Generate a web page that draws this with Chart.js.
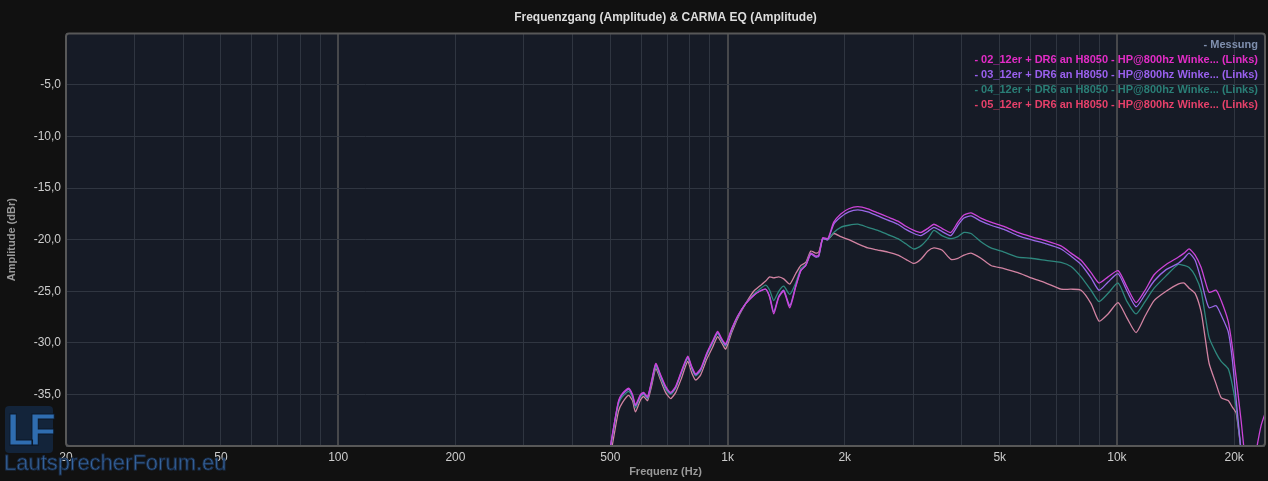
<!DOCTYPE html>
<html>
<head>
<meta charset="utf-8">
<title>Frequenzgang</title>
<script src="https://cdn.jsdelivr.net/npm/chart.js@4.4.1/dist/chart.umd.min.js"></script>
<style>
  html, body { margin: 0; padding: 0; background: #111111; }
  #wrap { position: relative; width: 1268px; height: 481px; overflow: hidden; }
  canvas { display: block; }
  .logo-box {
    position: absolute; left: 5px; top: 406px; width: 48px; height: 47px;
    background: #13243a; border-radius: 4px;
    color: #2f6db0; font: bold 44px "Liberation Sans", Arial, sans-serif;
    line-height: 48px; text-align: center; letter-spacing: -5px;
    -webkit-text-stroke: 1px #0c1828;
  }
  .logo-text {
    position: absolute; left: 4px; top: 450px;
    font: 22px "Liberation Sans", Arial, sans-serif;
    color: #3a6aa5; -webkit-text-stroke: 1px #1b3150;
  }
</style>
</head>
<body>
<div id="wrap">
  <canvas id="fr" width="1268" height="481"></canvas>
  <div class="logo-box">LF</div>
  <div class="logo-text">LautsprecherForum.eu</div>
</div>
<script>
// --- DATA ---

// frequency points in Hz, shared by all four curves
const freqHz = [
  490, 500, 513, 525, 537, 557, 570, 580, 598, 609,
  623, 638, 654, 673, 693, 714, 736, 762, 790, 809,
  828, 853, 884, 916, 943, 966, 989, 1025, 1062, 1113,
  1167, 1209, 1253, 1283, 1314, 1353, 1394, 1445, 1496, 1542,
  1588, 1636, 1685, 1715, 1756, 1809, 1874, 1953, 2048, 2160,
  2292, 2432, 2580, 2738, 2870, 3010, 3136, 3270, 3388, 3552,
  3746, 3904, 4046, 4218, 4474, 4746, 5126, 5568, 6016, 6572,
  7184, 7622, 8088, 8580, 8996, 9488, 10066, 10616, 11198, 11810,
  12456, 13374, 14356, 14876, 15324, 15878, 16452, 16846, 17248, 17978,
  18518, 19304, 19766, 20236, 20846, 21470, 22120, 22780, 23460, 24180
];

// amplitude in dBr
const curve02 = [
  -42, -40.1, -37.6, -35.6, -34.9, -34.4, -35.0, -36.0, -35.0, -34.8,
  -35.2, -33.7, -32.0, -33.1, -34.2, -34.8, -34.2, -32.7, -31.3, -32.3,
  -33.0, -32.5, -31.0, -29.8, -28.9, -29.6, -30.1, -28.6, -27.4, -26.2,
  -25.4, -25.0, -24.8, -25.6, -27.2, -25.6, -25.0, -26.6, -24.6, -23.0,
  -22.5, -21.3, -21.6, -21.5, -19.8, -19.9, -18.3, -17.5, -17.0, -16.8,
  -17.0, -17.4, -17.8, -18.2, -18.7, -19.1, -19.3, -18.9, -18.5, -18.9,
  -19.3, -18.3, -17.6, -17.4, -17.9, -18.3, -18.7, -19.3, -19.7, -20.1,
  -20.6, -21.3, -22.0, -23.2, -24.2, -23.6, -23.0, -24.6, -26.1, -24.9,
  -23.4, -22.4, -21.7, -21.3, -20.9, -21.5, -22.7, -24.0, -25.1, -24.9,
  -25.9, -27.9, -30.3, -33.4, -37.6, -42.0, -43.5, -40.5, -38.0, -36.5
];
const curve03 = [
  -42, -40.1, -37.6, -35.7, -35.0, -34.5, -35.1, -36.1, -35.1, -34.9,
  -35.3, -33.8, -32.1, -33.2, -34.3, -34.9, -34.3, -32.8, -31.4, -32.4,
  -33.1, -32.6, -31.1, -29.9, -29.0, -29.7, -30.2, -28.7, -27.4, -26.2,
  -25.4, -25.0, -24.8, -25.5, -27.0, -25.5, -24.9, -26.4, -24.5, -23.0,
  -22.5, -21.4, -21.7, -21.6, -19.9, -20.0, -18.5, -17.8, -17.3, -17.1,
  -17.3, -17.7, -18.1, -18.5, -19.0, -19.4, -19.6, -19.2, -18.8, -19.2,
  -19.6, -18.6, -17.9, -17.7, -18.2, -18.6, -19.0, -19.6, -20.0, -20.4,
  -20.9, -21.6, -22.4, -23.7, -24.9, -24.1, -23.3, -25.0, -26.5, -25.3,
  -24.0, -22.9, -22.3, -21.8, -21.3, -22.0, -23.9, -25.5, -26.6, -26.4,
  -27.3, -28.9, -31.5, -35.5, -40.5, -44, -46, -48, -48, -48
];
const curve04 = [
  -42.2, -40.3, -37.9, -35.9, -35.2, -34.7, -35.3, -36.3, -35.2, -35.0,
  -35.4, -33.9, -32.3, -33.4, -34.5, -35.0, -34.4, -32.9, -31.5, -32.5,
  -33.2, -32.7, -31.2, -30.0, -29.1, -29.8, -30.3, -28.8, -27.5, -26.2,
  -25.3, -24.8, -24.4, -24.9, -25.9, -25.0, -24.5, -25.3, -24.2, -22.8,
  -22.4, -21.3, -21.6, -21.5, -19.9, -20.0, -19.3, -18.8, -18.6, -18.5,
  -18.8, -19.1, -19.5, -19.9, -20.4, -20.9, -20.6, -19.9, -19.1, -19.6,
  -19.9, -19.7, -19.3, -19.4, -20.2, -20.8, -21.2, -21.7, -21.8, -22.0,
  -22.2, -22.6, -23.6, -24.9, -26.0, -25.2, -24.2, -26.0, -27.2, -26.0,
  -24.7, -23.5, -22.4, -22.5, -22.7, -23.5, -25.0, -27.3, -29.5, -31.0,
  -31.8, -32.5, -34.0, -36.3, -40.5, -44, -46, -48, -48, -48
];
const curve05 = [
  -42.5, -41.0, -38.6, -36.6, -35.8, -35.1, -35.6, -36.7, -35.5, -35.2,
  -35.6, -34.2, -32.5, -33.6, -34.8, -35.4, -34.8, -33.4, -31.8, -32.9,
  -33.6, -33.1, -31.6, -30.4, -29.4, -30.0, -30.6, -29.0, -27.6, -26.2,
  -25.0, -24.5, -24.0, -23.6, -23.7, -23.6, -23.8, -24.3, -23.3, -22.5,
  -22.2, -21.1, -21.3, -21.2, -19.9, -20.0, -19.4, -19.7, -20.0, -20.4,
  -20.8, -21.0, -21.2, -21.5, -21.9, -22.3, -21.9, -21.1, -20.8, -21.0,
  -21.9, -21.8, -21.5, -21.3, -21.8, -22.5, -22.8, -23.2, -23.7, -24.2,
  -24.8, -24.8, -24.9, -26.2, -27.9, -27.2, -26.1, -27.6, -29.0, -27.4,
  -25.9, -25.0, -24.3, -24.2, -24.7, -25.2, -27.0, -29.5, -32.0, -34.0,
  -35.3, -35.6, -36.2, -36.8, -40.5, -44, -46, -48, -48, -48
];

const seriesLabels = [
  'Messung',
  '02_12er + DR6 an H8050 - HP@800hz Winke... (Links)',
  '03_12er + DR6 an H8050 - HP@800hz Winke... (Links)',
  '04_12er + DR6 an H8050 - HP@800hz Winke... (Links)',
  '05_12er + DR6 an H8050 - HP@800hz Winke... (Links)'
];

// axis ticks
const xGridHz = [20, 30, 40, 50, 60, 70, 80, 90,
  100, 200, 300, 400, 500, 600, 700, 800, 900,
  1000, 2000, 3000, 4000, 5000, 6000, 7000, 8000, 9000,
  10000, 20000];
const xLabelHz = [20, 50, 100, 200, 500, 1000, 2000, 5000, 10000, 20000];
const xDecadeHz = [100, 1000, 10000];
const yGridDb = [-40, -35, -30, -25, -20, -15, -10, -5, 0];
const yLabelDb = [-35, -30, -25, -20, -15, -10, -5];

// --- STYLE ---
const FONT = '"Liberation Sans", Arial, Helvetica, sans-serif';
const lineColors = ['#8090b0', '#cc44d8', '#9a68e8', '#2e877d', '#d283a2'];
const textColors = ['#7f8fae', '#e22cc6', '#9a60ee', '#2a7e76', '#e6406a'];

const curves = [[], curve02, curve03, curve04, curve05];

// dark plot panel with rounded frame
const plotPanel = {
  id: 'plotPanel',
  beforeDraw(chart) {
    const { ctx, chartArea: a } = chart;
    ctx.save();
    ctx.fillStyle = '#161b26';
    ctx.fillRect(a.left, a.top, a.right - a.left, a.bottom - a.top);
    ctx.restore();
  },
  afterDraw(chart) {
    const { ctx, chartArea: a } = chart;
    ctx.save();
    ctx.strokeStyle = '#585858';
    ctx.lineWidth = 2;
    ctx.beginPath();
    ctx.roundRect(a.left, a.top, a.right - a.left, a.bottom - a.top, 3);
    ctx.stroke();
    ctx.restore();
  }
};

// right-aligned text legend in the top corner of the plot
const cornerLegend = {
  id: 'cornerLegend',
  afterDatasetsDraw(chart) {
    const { ctx, chartArea: a } = chart;
    ctx.save();
    ctx.font = 'bold 11px ' + FONT;
    ctx.textAlign = 'right';
    ctx.textBaseline = 'middle';
    chart.data.datasets.forEach((ds, i) => {
      ctx.fillStyle = textColors[i];
      ctx.fillText('- ' + ds.label, a.right - 7, a.top + 12 + i * 14.8);
    });
    ctx.restore();
  }
};

const ctx = document.getElementById('fr').getContext('2d');
new Chart(ctx, {
  type: 'line',
  data: {
    datasets: seriesLabels.map((label, i) => ({
      label: label,
      data: curves[i].map((v, j) => ({ x: freqHz[j], y: v })),
      borderColor: lineColors[i],
      borderWidth: 1.3,
      pointRadius: 0,
      fill: false,
      tension: 0.2
    }))
  },
  options: {
    responsive: false,
    animation: false,
    devicePixelRatio: 1,
    layout: { padding: { top: 0, right: 3, bottom: 0, left: 0 } },
    scales: {
      x: {
        type: 'logarithmic',
        min: 20,
        max: 24000,
        afterBuildTicks: s => { s.ticks = xGridHz.map(v => ({ value: v })); },
        afterFit: s => { s.height = 35; },
        ticks: {
          autoSkip: false,
          maxRotation: 0,
          color: '#cccccc',
          padding: 4,
          font: { family: FONT, size: 12 },
          callback: v => xLabelHz.includes(v) ? (v >= 1000 ? (v / 1000) + 'k' : String(v)) : ''
        },
        grid: {
          drawTicks: false,
          color: c => xDecadeHz.includes(c.tick && c.tick.value) ? '#47484b' : '#2f3540',
          lineWidth: c => xDecadeHz.includes(c.tick && c.tick.value) ? 2 : 1
        },
        border: { display: false },
        title: {
          display: true,
          text: 'Frequenz (Hz)',
          color: '#9a9a9a',
          font: { family: FONT, size: 11, weight: 'bold' },
          padding: { top: 0, bottom: 2 }
        }
      },
      y: {
        min: -40,
        max: 0,
        afterBuildTicks: s => { s.ticks = yGridDb.map(v => ({ value: v })); },
        afterFit: s => { s.width = 66; },
        ticks: {
          color: '#cccccc',
          padding: 5,
          font: { family: FONT, size: 12 },
          callback: v => yLabelDb.includes(v) ? v.toFixed(1).replace('.', ',') : ''
        },
        grid: { drawTicks: false, color: '#303641' },
        border: { display: false },
        title: {
          display: true,
          text: 'Amplitude (dBr)',
          color: '#9a9a9a',
          font: { family: FONT, size: 11, weight: 'bold' },
          padding: { top: 5, bottom: 0 }
        }
      }
    },
    plugins: {
      legend: { display: false },
      tooltip: { enabled: false },
      title: {
        display: true,
        fullSize: false,
        text: 'Frequenzgang (Amplitude) & CARMA EQ (Amplitude)',
        color: '#dddddd',
        font: { family: FONT, size: 12, weight: 'bold' },
        padding: { top: 10, bottom: 9 }
      }
    }
  },
  plugins: [plotPanel, cornerLegend]
});
</script>
</body>
</html>
